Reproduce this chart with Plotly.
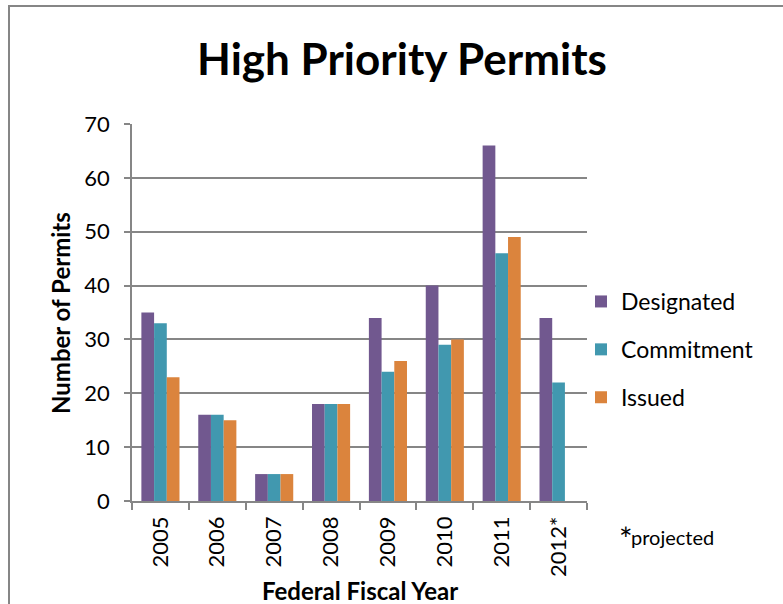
import plotly.graph_objects as go

years = ["2005", "2006", "2007", "2008", "2009", "2010", "2011", "2012*"]
designated = [35, 16, 5, 18, 34, 40, 66, 34]
commitment = [33, 16, 5, 18, 24, 29, 46, 22]
issued = [23, 15, 5, 18, 26, 30, 49, None]

series = [
    ("Designated", designated, "#71588F"),
    ("Commitment", commitment, "#4198AF"),
    ("Issued", issued, "#DB843D"),
]

FONT = "Lato, 'Open Sans', sans-serif"

W, H = 783, 604
L, R, T, B = 132, 196, 124, 103
pw, ph = W - L - R, H - T - B


def px_x(x):
    return (x - L) / pw


def px_y(y):
    return (H - B - y) / ph


fig = go.Figure()
for i, (name, vals, color) in enumerate(series):
    fig.add_trace(go.Bar(
        x=years, y=vals, name=name,
        marker=dict(color=color, line=dict(width=0)),
        legendgroup=f"g{i}",
    ))

fig.update_layout(
    width=W, height=H,
    margin=dict(l=L, r=R, t=T, b=B),
    paper_bgcolor="white", plot_bgcolor="white",
    barmode="group", bargap=0.33, bargroupgap=0,
    font=dict(family=FONT, color="black"),
    title=dict(text="<b>High Priority Permits</b>", x=px_x(402), xref="paper",
               xanchor="center", y=1 - 60 / H, yanchor="middle",
               font=dict(size=44, family=FONT, color="black")),
    showlegend=True,
    legend=dict(x=px_x(581), xanchor="left", y=px_y(280), yanchor="top",
                font=dict(size=23, family=FONT), tracegroupgap=15,
                bgcolor="rgba(0,0,0,0)", itemwidth=30),
    xaxis=dict(
        type="category", tickson="boundaries", ticks="outside", ticklen=7,
        tickcolor="#868686", tickwidth=1.5, tickangle=-90,
        tickfont=dict(size=22, family=FONT), ticklabelstandoff=5,
        showline=True, linecolor="#868686", linewidth=1.5,
        showgrid=False,
    ),
    yaxis=dict(
        range=[0, 70], dtick=10, ticks="outside", ticklen=6,
        tickcolor="#868686", tickwidth=1.5,
        tickfont=dict(size=22, family=FONT), ticklabelstandoff=10,
        showline=True, linecolor="#868686", linewidth=1.5,
        showgrid=True, gridcolor="#868686", gridwidth=1.5,
        zeroline=False,
    ),
    shapes=[dict(type="rect", xref="paper", yref="paper",
                 x0=px_x(9), x1=px_x(W + 20), y0=px_y(H + 20), y1=px_y(6),
                 line=dict(color="#868686", width=2), fillcolor="rgba(0,0,0,0)",
                 layer="below")],
    annotations=[
        dict(text="<b>Federal Fiscal Year</b>", xref="paper", yref="paper",
             x=px_x(360), y=px_y(590), xanchor="center", yanchor="middle",
             showarrow=False, font=dict(size=24, family=FONT)),
        dict(text="<b>Number of Permits</b>", xref="paper", yref="paper",
             x=px_x(60), y=px_y(313), xanchor="center", yanchor="middle",
             textangle=-90, showarrow=False, font=dict(size=24, family=FONT)),
        dict(text="*", xref="paper", yref="paper",
             x=px_x(617), y=px_y(538), xanchor="left", yanchor="middle",
             showarrow=False, font=dict(size=32, family=FONT)),
        dict(text="projected", xref="paper", yref="paper",
             x=px_x(629), y=px_y(537), xanchor="left", yanchor="middle",
             showarrow=False, font=dict(size=20, family=FONT)),
    ],
)

fig.write_html("out.html")
